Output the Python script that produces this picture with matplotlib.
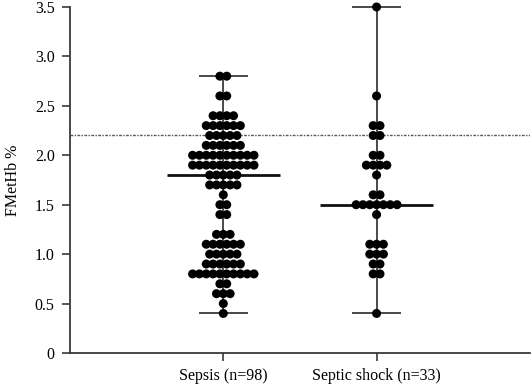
import numpy as np
import matplotlib
matplotlib.use("Agg")
import matplotlib.pyplot as plt

plt.rcParams['font.family'] = ['Liberation Serif', 'DejaVu Serif']

# values (FMetHb %), as level -> number of dots
groups = ["Sepsis (n=98)", "Septic shock (n=33)"]
sepsis_levels = [2.8, 2.6, 2.4, 2.3, 2.2, 2.1, 2.0, 1.9, 1.8, 1.7, 1.6,
                 1.5, 1.4, 1.2, 1.1, 1.0, 0.9, 0.8, 0.7, 0.6, 0.5, 0.4]
sepsis_counts = [2, 2, 4, 6, 5, 6, 10, 10, 5, 5, 1,
                 2, 2, 3, 6, 5, 6, 10, 2, 3, 1, 1]
shock_levels = [3.5, 2.6, 2.3, 2.2, 2.0, 1.9, 1.8, 1.6, 1.5, 1.4,
                1.1, 1.0, 0.9, 0.8, 0.4]
shock_counts = [1, 1, 2, 2, 2, 4, 1, 2, 7, 1, 3, 3, 2, 2, 1]
medians = [1.8, 1.5]
cutoff = 2.2
yticks = [0, 0.5, 1.0, 1.5, 2.0, 2.5, 3.0, 3.5]
ytick_labels = ["0", "0.5", "1.0", "1.5", "2.0", "2.5", "3.0", "3.5"]

dot_step = 0.0445
cap_half = 0.16
med_half = 0.37
line_col = "#3a3a3a"

fig = plt.figure(figsize=(5.32, 3.9), dpi=100)
ax = fig.add_axes([0.1316, 0.0949, 0.8644, 0.8872])

data = [(sepsis_levels, sepsis_counts), (shock_levels, shock_counts)]
for i, (levels, counts) in enumerate(data):
    vals = np.repeat(levels, counts)
    lo, hi = vals.min(), vals.max()
    # range line + caps
    ax.vlines(i, lo, hi, color=line_col, lw=1.3, zorder=1, clip_on=False)
    ax.hlines([lo, hi], i - cap_half, i + cap_half, color=line_col, lw=1.3,
              zorder=1, clip_on=False)
    ax.hlines(medians[i], i - med_half, i + med_half, color="#111111",
              lw=2.0, zorder=1)
    # simple swarm: spread each level's dots symmetrically
    xs, ys = [], []
    for lev, n in zip(levels, counts):
        off = (np.arange(n) - (n - 1) / 2) * dot_step
        xs.extend(i + off)
        ys.extend([lev] * n)
    ax.scatter(xs, ys, s=42, color="black", edgecolors="none", zorder=3,
               clip_on=False)

ax.axhline(cutoff, color="#555555", lw=1.0, ls=(0, (2, 1, 1, 1)), zorder=0)

ax.set_xlim(-1, 2)
ax.set_ylim(0, 3.5)
ax.set_xticks([0, 1])
ax.set_xticklabels(groups, fontsize=11.5)
ax.set_yticks(yticks)
ax.set_yticklabels(ytick_labels, fontsize=11.5)
ax.set_ylabel("FMetHb %", fontsize=11.5, labelpad=10)

for s in ["top", "right"]:
    ax.spines[s].set_visible(False)
for s in ["left", "bottom"]:
    ax.spines[s].set_color(line_col)
    ax.spines[s].set_linewidth(1.3)
ax.tick_params(axis="both", direction="out", length=6, width=1.2,
               color=line_col, labelcolor="black", pad=5)

fig.savefig("out.png", dpi=100)
